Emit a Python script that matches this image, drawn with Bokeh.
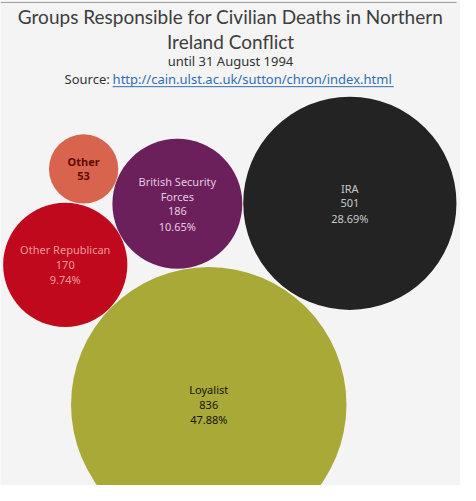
import numpy as np

from bokeh.core.properties import value
from bokeh.embed import file_html
from bokeh.models import ColumnDataSource, Range1d
from bokeh.plotting import figure
from bokeh.resources import INLINE

# data
groups = ["Loyalist", "IRA", "British Security Forces", "Other Republican", "Other"]
deaths = [836, 501, 186, 170, 53]
shares = ["47.88%", "28.69%", "10.65%", "9.74%", ""]

# layout of the packed bubbles (reference pixels) and styling
centres_x = [215.5, 361.5, 183.0, 67.0, 86.0]
centres_y = [417.5, 209.5, 210.0, 273.0, 174.0]
fills = ["#a8a936", "#232323", "#6b1f5b", "#c0091c", "#d9644d"]
label_colors = ["#14140a", "#c8c8c8", "#e3cbe0", "#f19a9e", "#5e0a05"]
label_names = [["Loyalist"], ["IRA"], ["British Security", "Forces"],
               ["Other Republican"], ["Other"]]

scale = 142.5 / np.sqrt(max(deaths))
radii = [scale * np.sqrt(d) for d in deaths]

TITLE_FONT = "Lato"
FONT = "Noto Sans"
BG = "#f4f4f4"

p = figure(width=460, height=485, output_backend="svg", toolbar_location=None,
           x_range=Range1d(0, 476), y_range=Range1d(501, 0),
           min_border=0, background_fill_color=BG, border_fill_color=BG)
p.axis.visible = False
p.grid.visible = False
p.outline_line_color = None

p.segment(x0=[0], y0=[2], x1=[472], y1=[2], line_color="#9a9a9a", line_width=1)

src = ColumnDataSource(dict(x=centres_x, y=centres_y, r=radii, fill=fills))
p.circle("x", "y", radius="r", source=src, fill_color="fill", line_color=None)

# labels inside the bubbles: name lines, count, share
lx, ly, lt, lc, lw = [], [], [], [], []
step = 15.5
for i, name in enumerate(label_names):
    lines = name + [str(deaths[i])] + ([shares[i]] if shares[i] else [])
    n = len(lines)
    for j, t in enumerate(lines):
        lx.append(centres_x[i])
        ly.append(centres_y[i] + (j - (n - 1) / 2) * step)
        lt.append(t)
        lc.append(label_colors[i])
        lw.append("bold" if groups[i] == "Other" else "normal")
lsrc = ColumnDataSource(dict(x=lx, y=ly, t=lt, c=lc, w=lw))
p.text("x", "y", text="t", source=lsrc, text_color="c", text_font_style="w",
       text_font=value(FONT), text_font_size="11px",
       text_align="center", text_baseline="middle")

# titles
p.text(x=[238, 238], y=[17, 42],
       text=["Groups Responsible for Civilian Deaths in Northern", "Ireland Conflict"],
       text_font=value(TITLE_FONT), text_font_size="19px", text_color="#3d3d3d",
       text_align="center", text_baseline="middle")
p.text(x=[238], y=[62], text=["until 31 August 1994"],
       text_font=value(FONT), text_font_size="13px", text_color="#333333",
       text_align="center", text_baseline="middle")
p.text(x=[113], y=[81], text=["Source:"],
       text_font=value(FONT), text_font_size="13px", text_color="#333333",
       text_align="right", text_baseline="middle")
p.text(x=[116], y=[81], text=["http://cain.ulst.ac.uk/sutton/chron/index.html"],
       text_font=value(FONT), text_font_size="13px", text_color="#2e6fb5",
       text_align="left", text_baseline="middle")
p.segment(x0=[116], y0=[89], x1=[407], y1=[89], line_color="#2e6fb5", line_width=1)

open("out.html", "w").write(file_html(p, INLINE))
